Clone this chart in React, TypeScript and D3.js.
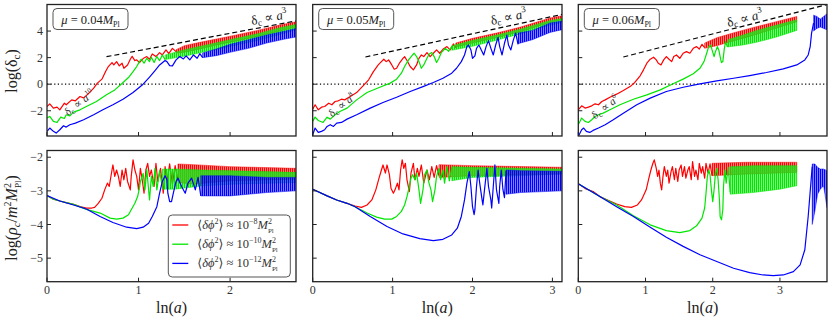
import React from 'react';
import * as d3 from 'd3';

type Pt = [number, number];
type Band = [number, number, number]; // [ln a, low, high] envelope of fast oscillation

// ---------- data ----------
const muLabels = ['0.04', '0.05', '0.06'];
const xMaxes = [2.72, 3.12, 3.7];
const xTicks = [[0, 1, 2], [0, 1, 2, 3], [0, 1, 2, 3]];
const topTicks = [-2, 0, 2, 4];
const bottomTicks = [-5, -4, -3, -2];
const legendExponents = ['−8', '−10', '−12'];
const growthPowers = ['10', '8', '6'];
// start of the delta_c ∝ a^3 guide line [ln a, log delta]
const dashStarts: Pt[] = [[0.65, 2.07], [0.66, 2.05], [0.67, 2.05]];
const a3LabelPos: Pt[] = [[2.24, 4.45], [2.24, 4.45], [2.23, 4.3]];
const lowLabelPos: Pt[] = [[0.23, -2.4], [0.24, -2.5], [0.25, -2.65]];

// top row, log(delta_c)
const topRed04: Pt[] = [[0, -1.68], [0.03, -1.48], [0.07, -1.8], [0.11, -1.73], [0.14, -1.93], [0.19, -1.43], [0.21, -1.55], [0.27, -1.18], [0.31, -1.25], [0.36, -0.93], [0.4, -1.03], [0.45, -0.73], [0.51, -0.3], [0.55, 0.08], [0.6, 0.38], [0.64, 0.95], [0.67, 1.33], [0.71, 1.63], [0.73, 1.45], [0.76, 1.7], [0.79, 1.38], [0.82, 1.58], [0.84, 1.2], [0.88, 1.45], [0.91, 1.88], [0.93, 2.1], [0.96, 1.78], [0.98, 1.83], [1.01, 1.63], [1.05, 1.93], [1.09, 2.08], [1.12, 1.88], [1.15, 2.28], [1.19, 2.08], [1.23, 2.38], [1.26, 2.2], [1.3, 2.58], [1.33, 2.3], [1.37, 2.7], [1.41, 2.45]];
const topRed04Band: Band[] = [[1.41, 2.35, 2.6], [1.5, 2.4, 2.9], [1.67, 2.65, 3.15], [1.85, 2.95, 3.4], [2.03, 3.2, 3.65], [2.3, 3.6, 4.05], [2.54, 4.0, 4.45], [2.72, 4.3, 4.7]];
const topGreen04: Pt[] = [[0, -2.55], [0.03, -2.43], [0.07, -2.8], [0.11, -2.88], [0.15, -2.48], [0.19, -2.58], [0.21, -2.3], [0.25, -2.38], [0.29, -2.1], [0.36, -1.93], [0.43, -1.68], [0.54, -1.3], [0.65, -0.8], [0.74, -0.43], [0.81, 0], [0.89, 0.5], [0.94, 0.95], [0.98, 1.33], [1.01, 1.7], [1.03, 1.88], [1.06, 1.58], [1.09, 1.95], [1.12, 1.7], [1.14, 2.03], [1.17, 1.63], [1.2, 2.08], [1.23, 1.78], [1.26, 2.2], [1.29, 1.85]];
const topGreen04Band: Band[] = [[1.29, 1.85, 2.2], [1.5, 2.1, 2.6], [1.8, 2.55, 3.05], [2.03, 2.9, 3.4], [2.3, 3.3, 3.8], [2.54, 3.75, 4.25], [2.72, 4.1, 4.5]];
const topBlue04: Pt[] = [[0, -3.55], [0.03, -3.3], [0.07, -3.55], [0.1, -3.68], [0.14, -3.43], [0.18, -3.13], [0.21, -3.23], [0.25, -3.05], [0.31, -2.93], [0.4, -2.68], [0.51, -2.3], [0.61, -1.93], [0.72, -1.55], [0.83, -1.13], [0.94, -0.63], [1.05, 0], [1.12, 0.53], [1.18, 1.03], [1.23, 1.45], [1.29, 1.78], [1.31, 1.7], [1.34, 1.4], [1.37, 1.38], [1.41, 1.83], [1.45, 2.08], [1.49, 1.9], [1.52, 2.13], [1.56, 1.83], [1.6, 2.2], [1.64, 1.95], [1.67, 2.3], [1.7, 2.0]];
const topBlue04Band: Band[] = [[1.7, 2.0, 2.35], [1.85, 2.15, 2.65], [2.0, 2.4, 3.0], [2.2, 2.7, 3.35], [2.4, 3.1, 3.7], [2.6, 3.4, 4.0], [2.72, 3.55, 4.2]];

const topRed05: Pt[] = [[0, -1.88], [0.03, -1.55], [0.07, -1.93], [0.11, -1.73], [0.15, -1.68], [0.2, -1.43], [0.24, -1.55], [0.28, -1.3], [0.32, -1.25], [0.36, -1.13], [0.4, -1.18], [0.47, -0.93], [0.55, -0.63], [0.63, -0.13], [0.7, 0.33], [0.76, 0.95], [0.82, 1.45], [0.86, 1.7], [0.89, 1.88], [0.92, 1.7], [0.95, 1.83], [0.99, 1.45], [1.02, 1.13], [1.05, 1.2], [1.09, 1.63], [1.13, 1.95], [1.15, 2.08], [1.18, 1.78], [1.22, 1.33], [1.26, 1.08], [1.3, 1.45], [1.33, 1.95], [1.36, 2.2], [1.39, 2.08], [1.43, 2.38], [1.47, 2.08], [1.51, 2.33], [1.55, 2.58], [1.59, 2.33], [1.63, 2.63], [1.68, 2.83], [1.72, 2.58], [1.76, 3.03], [1.79, 2.75]];
const topRed05Band: Band[] = [[1.79, 2.8, 3.1], [2.0, 3.1, 3.45], [2.3, 3.5, 3.85], [2.6, 3.95, 4.3], [2.97, 4.65, 4.98], [3.12, 4.85, 5.15]];
const topGreen05: Pt[] = [[0, -2.8], [0.03, -2.48], [0.07, -2.73], [0.13, -2.88], [0.18, -2.48], [0.22, -2.63], [0.28, -2.3], [0.34, -2.05], [0.43, -1.8], [0.55, -1.18], [0.68, -0.63], [0.84, -0.23], [0.97, 0.08], [1.05, 0.38], [1.11, 0.83], [1.15, 1.33], [1.2, 1.83], [1.24, 2.13], [1.27, 2.33], [1.3, 2.08], [1.33, 1.7], [1.36, 1.2], [1.39, 1.45], [1.43, 1.95], [1.46, 2.28], [1.49, 2.38], [1.52, 2.08], [1.55, 1.63], [1.58, 1.95], [1.61, 2.38], [1.66, 2.7], [1.7, 2.48], [1.74, 2.83]];
const topGreen05Band: Band[] = [[1.74, 2.55, 2.9], [2.0, 2.85, 3.3], [2.3, 3.3, 3.7], [2.6, 3.8, 4.15], [2.97, 4.45, 4.8], [3.12, 4.65, 4.95]];
const topBlue05: Pt[] = [[0, -3.8], [0.03, -3.3], [0.07, -3.63], [0.11, -3.55], [0.15, -3.43], [0.18, -3.18], [0.22, -3.05], [0.26, -3.18], [0.3, -2.93], [0.36, -2.88], [0.43, -2.63], [0.55, -2.3], [0.72, -1.8], [0.88, -1.38], [1.05, -0.98], [1.22, -0.55], [1.38, -0.18], [1.51, 0.13], [1.63, 0.45], [1.74, 0.83], [1.8, 1.2], [1.86, 1.7], [1.9, 2.2], [1.93, 2.83], [1.95, 2.95], [1.98, 2.58], [2.0, 1.95], [2.03, 2.13], [2.05, 2.7], [2.08, 2.95], [2.11, 2.58], [2.14, 2.2], [2.17, 2.83], [2.2, 3.28], [2.23, 2.7], [2.26, 2.2], [2.29, 2.95], [2.32, 3.53], [2.34, 2.83], [2.37, 2.2], [2.4, 3.08], [2.43, 3.7], [2.45, 2.95], [2.48, 2.58], [2.51, 3.3], [2.54, 3.85], [2.57, 3.0]];
const topBlue05Band: Band[] = [[2.57, 3.05, 3.85], [2.75, 3.35, 4.05], [2.97, 3.9, 4.6], [3.12, 4.1, 4.75]];

const topRed06: Pt[] = [[0, -1.93], [0.05, -1.63], [0.1, -1.8], [0.15, -1.73], [0.2, -1.63], [0.25, -1.48], [0.3, -1.55], [0.35, -1.3], [0.4, -1.18], [0.47, -0.98], [0.57, -0.75], [0.67, -0.48], [0.77, -0.18], [0.84, 0.13], [0.92, 0.63], [0.97, 1.08], [1.02, 1.58], [1.07, 1.88], [1.12, 2.03], [1.16, 1.83], [1.19, 1.58], [1.23, 1.45], [1.27, 1.83], [1.31, 2.08], [1.35, 1.88], [1.39, 1.7], [1.42, 2.08], [1.46, 2.2], [1.51, 1.95], [1.56, 2.33], [1.61, 2.45], [1.66, 2.33], [1.71, 2.7], [1.76, 2.83], [1.8, 2.65], [1.84, 3.0], [1.88, 2.75]];
const topRed06Band: Band[] = [[1.88, 2.7, 3.1], [2.06, 2.9, 3.5], [2.3, 3.25, 3.85], [2.55, 3.6, 4.2], [2.9, 4.15, 4.65], [3.25, 4.7, 5.1]];
const topGreen06: Pt[] = [[0, -3.05], [0.05, -2.55], [0.1, -2.8], [0.15, -2.88], [0.2, -2.68], [0.25, -2.43], [0.3, -2.3], [0.37, -2.18], [0.47, -1.93], [0.62, -1.55], [0.82, -1.13], [1.02, -0.8], [1.22, -0.43], [1.41, 0.03], [1.56, 0.38], [1.71, 0.78], [1.81, 1.2], [1.87, 1.7], [1.91, 2.33], [1.94, 2.83], [1.97, 2.95], [1.99, 2.58], [2.02, 2.08], [2.04, 2.45], [2.07, 2.83], [2.09, 2.58], [2.12, 1.83], [2.13, 1.63], [2.15, 1.7], [2.17, 2.58], [2.19, 3.2], [2.22, 2.8]];
const topGreen06Band: Band[] = [[2.22, 2.8, 3.35], [2.45, 2.95, 3.7], [2.65, 3.15, 4.05], [2.95, 3.55, 4.45], [3.25, 4.05, 4.85]];
const topBlue06: Pt[] = [[0, -3.93], [0.05, -3.43], [0.08, -3.3], [0.12, -3.55], [0.17, -3.63], [0.22, -3.48], [0.3, -3.3], [0.4, -3.05], [0.52, -2.68], [0.67, -2.18], [0.87, -1.55], [1.07, -1.05], [1.31, -0.55], [1.56, -0.23], [1.81, 0.03], [2.06, 0.25], [2.31, 0.45], [2.55, 0.65], [2.8, 0.88], [3.05, 1.15], [3.25, 1.45], [3.37, 1.83], [3.42, 2.2], [3.45, 2.83], [3.47, 3.83], [3.5, 4.6]];
const topBlue06Band: Band[] = [[3.5, 4.0, 5.2], [3.55, 4.2, 5.1], [3.6, 4.3, 4.9], [3.65, 4.2, 5.1], [3.7, 4.1, 5.3]];

// bottom row, log(rho_c / m^2 M_Pl^2)
const botRed04: Pt[] = [[0, -3.14], [0.07, -3.25], [0.14, -3.3], [0.21, -3.35], [0.29, -3.4], [0.36, -3.47], [0.43, -3.51], [0.49, -3.51], [0.52, -3.49], [0.56, -3.37], [0.6, -3.22], [0.63, -2.97], [0.66, -2.77], [0.68, -2.87], [0.71, -2.38], [0.72, -2.23], [0.74, -2.57], [0.76, -2.38], [0.78, -2.57], [0.8, -2.87], [0.82, -2.38], [0.84, -2.67], [0.86, -2.33], [0.88, -2.72], [0.91, -2.97], [0.92, -2.57], [0.94, -2.08], [0.96, -2.38], [0.98, -2.57], [1.0, -2.97], [1.02, -2.33], [1.04, -2.67], [1.06, -3.07], [1.08, -2.38], [1.1, -2.18], [1.12, -2.57], [1.14, -2.38], [1.17, -2.87], [1.19, -2.18], [1.21, -2.72], [1.24, -2.33], [1.27, -3.07], [1.29, -2.28], [1.31, -2.75], [1.34, -2.2], [1.37, -2.8], [1.4, -2.25], [1.43, -2.7]];
const botRed04Band: Band[] = [[1.43, -2.75, -2.2], [1.6, -2.8, -2.22], [2.0, -2.7, -2.28], [2.72, -2.65, -2.33]];
const botGreen04: Pt[] = [[0, -3.14], [0.07, -3.25], [0.14, -3.3], [0.21, -3.35], [0.29, -3.4], [0.43, -3.55], [0.58, -3.66], [0.69, -3.81], [0.76, -3.84], [0.83, -3.81], [0.89, -3.71], [0.92, -3.56], [0.96, -3.37], [0.99, -3.17], [1.01, -2.92], [1.02, -2.72], [1.04, -2.57], [1.05, -2.48], [1.07, -2.97], [1.09, -2.37], [1.12, -3.27], [1.14, -2.57], [1.16, -2.87], [1.18, -2.33], [1.2, -2.97], [1.23, -2.4], [1.26, -2.9]];
const botGreen04Band: Band[] = [[1.26, -2.95, -2.35], [1.4, -2.95, -2.35], [1.7, -2.85, -2.38], [2.0, -2.8, -2.4], [2.72, -2.75, -2.45]];
const botBlue04: Pt[] = [[0, -3.14], [0.14, -3.3], [0.29, -3.42], [0.43, -3.54], [0.58, -3.76], [0.72, -3.94], [0.87, -4.08], [0.98, -4.12], [1.05, -4.08], [1.11, -3.96], [1.15, -3.76], [1.2, -3.47], [1.23, -3.07], [1.26, -2.72], [1.29, -2.55], [1.31, -2.67], [1.32, -3.07], [1.34, -3.32], [1.36, -3.32], [1.38, -3.07], [1.41, -2.72], [1.43, -2.62], [1.47, -2.87], [1.51, -3.07], [1.54, -2.77], [1.58, -2.62], [1.62, -2.97], [1.65, -2.6], [1.68, -3.15]];
const botBlue04Band: Band[] = [[1.68, -3.15, -2.55], [2.0, -3.15, -2.55], [2.4, -3.05, -2.6], [2.72, -3.0, -2.6]];

const botRed05: Pt[] = [[0, -2.95], [0.09, -3.05], [0.18, -3.15], [0.3, -3.27], [0.43, -3.37], [0.53, -3.45], [0.61, -3.49], [0.68, -3.42], [0.74, -3.27], [0.79, -2.97], [0.83, -2.62], [0.86, -2.38], [0.88, -2.23], [0.91, -2.47], [0.93, -2.23], [0.96, -2.52], [0.98, -2.92], [1.01, -3.07], [1.03, -2.97], [1.06, -2.77], [1.08, -2.97], [1.1, -2.38], [1.12, -2.08], [1.14, -2.33], [1.16, -2.18], [1.18, -2.67], [1.21, -3.02], [1.23, -2.47], [1.26, -2.18], [1.28, -2.67], [1.31, -2.33], [1.33, -2.57], [1.36, -2.23], [1.39, -2.77], [1.43, -2.38], [1.46, -2.67], [1.49, -2.28], [1.52, -2.6], [1.55, -2.25], [1.58, -2.55]];
const botRed05Band: Band[] = [[1.58, -2.6, -2.22], [2.0, -2.55, -2.25], [3.12, -2.5, -2.3]];
const botGreen05: Pt[] = [[0, -2.95], [0.18, -3.15], [0.3, -3.27], [0.43, -3.37], [0.53, -3.47], [0.68, -3.66], [0.8, -3.78], [0.9, -3.84], [0.99, -3.84], [1.05, -3.76], [1.11, -3.61], [1.15, -3.42], [1.18, -3.17], [1.21, -2.87], [1.23, -2.62], [1.25, -2.52], [1.28, -2.67], [1.3, -2.47], [1.33, -2.97], [1.35, -3.37], [1.38, -2.97], [1.4, -2.52], [1.43, -2.38], [1.45, -2.72], [1.48, -2.97], [1.5, -3.32], [1.53, -2.97], [1.55, -2.57], [1.58, -2.33], [1.6, -2.67], [1.63, -2.38], [1.65, -2.77], [1.68, -2.28], [1.71, -2.7], [1.74, -2.3]];
const botGreen05Band: Band[] = [[1.74, -2.7, -2.28], [2.0, -2.6, -2.3], [3.12, -2.5, -2.35]];
const botBlue05: Pt[] = [[0, -2.95], [0.18, -3.15], [0.3, -3.27], [0.43, -3.37], [0.53, -3.47], [0.72, -3.76], [0.93, -4.06], [1.13, -4.28], [1.34, -4.42], [1.51, -4.48], [1.63, -4.44], [1.74, -4.31], [1.81, -4.11], [1.86, -3.76], [1.9, -3.27], [1.93, -2.77], [1.96, -2.43], [1.98, -2.87], [2.0, -3.47], [2.02, -3.71], [2.03, -3.56], [2.05, -2.87], [2.07, -2.38], [2.09, -2.77], [2.12, -3.27], [2.13, -3.42], [2.15, -2.97], [2.18, -2.33], [2.2, -2.87], [2.23, -3.27], [2.24, -3.51], [2.26, -2.87], [2.28, -2.23], [2.3, -2.97], [2.33, -3.37], [2.34, -2.87], [2.36, -2.38], [2.38, -2.95], [2.4, -3.2], [2.42, -2.4]];
const botBlue05Band: Band[] = [[2.42, -3.1, -2.38], [2.6, -3.05, -2.4], [3.12, -3.0, -2.42]];

const botRed06: Pt[] = [[0, -2.79], [0.12, -2.95], [0.22, -3.02], [0.32, -3.17], [0.45, -3.29], [0.57, -3.39], [0.69, -3.47], [0.79, -3.49], [0.88, -3.42], [0.94, -3.27], [1.01, -2.97], [1.05, -2.62], [1.08, -2.38], [1.11, -2.18], [1.13, -2.08], [1.16, -2.33], [1.18, -2.57], [1.2, -2.38], [1.22, -2.77], [1.24, -2.97], [1.26, -2.57], [1.28, -2.28], [1.31, -2.57], [1.33, -2.38], [1.35, -2.77], [1.38, -2.43], [1.4, -2.28], [1.43, -2.67], [1.45, -2.33], [1.48, -2.72], [1.5, -2.38], [1.53, -2.23], [1.55, -2.57], [1.58, -2.28], [1.6, -2.62], [1.63, -2.38], [1.65, -2.28], [1.68, -2.67], [1.7, -2.13], [1.73, -2.57], [1.75, -2.38], [1.78, -2.67], [1.8, -2.18], [1.83, -2.47], [1.85, -2.28], [1.88, -2.62], [1.9, -2.18], [1.93, -2.47], [1.96, -2.2], [1.99, -2.55]];
const botRed06Band: Band[] = [[1.99, -2.55, -2.18], [2.5, -2.5, -2.15], [3.25, -2.45, -2.15]];
const botGreen06: Pt[] = [[0, -2.79], [0.32, -3.17], [0.57, -3.42], [0.82, -3.74], [1.07, -4.01], [1.31, -4.18], [1.51, -4.24], [1.66, -4.18], [1.76, -4.04], [1.84, -3.81], [1.88, -3.51], [1.9, -3.07], [1.92, -2.57], [1.94, -2.38], [1.96, -2.52], [1.98, -2.97], [2.0, -3.32], [2.02, -2.97], [2.04, -2.48], [2.06, -2.33], [2.08, -2.67], [2.1, -3.27], [2.11, -3.76], [2.13, -3.86], [2.15, -3.56], [2.16, -2.87], [2.18, -2.38], [2.2, -2.77], [2.23, -2.3], [2.26, -3.05]];
const botGreen06Band: Band[] = [[2.26, -3.1, -2.28], [2.6, -3.05, -2.25], [3.0, -2.95, -2.25], [3.25, -2.85, -2.25]];
const botBlue06: Pt[] = [[0, -2.79], [0.32, -3.17], [0.57, -3.47], [0.82, -3.76], [1.07, -4.08], [1.31, -4.38], [1.56, -4.65], [1.81, -4.9], [2.06, -5.1], [2.31, -5.3], [2.55, -5.43], [2.75, -5.5], [2.9, -5.52], [3.05, -5.5], [3.2, -5.4], [3.3, -5.2], [3.37, -4.75], [3.42, -3.76], [3.46, -2.77], [3.48, -2.28]];
const botBlue06Band: Band[] = [[3.48, -4.0, -2.2], [3.52, -3.6, -2.2], [3.56, -3.1, -2.3], [3.6, -2.95, -2.35], [3.65, -2.85, -2.35], [3.7, -3.5, -2.4]];

const topLines = [[topRed04, topGreen04, topBlue04], [topRed05, topGreen05, topBlue05], [topRed06, topGreen06, topBlue06]];
const topBands = [[topRed04Band, topGreen04Band, topBlue04Band], [topRed05Band, topGreen05Band, topBlue05Band], [topRed06Band, topGreen06Band, topBlue06Band]];
const botLines = [[botRed04, botGreen04, botBlue04], [botRed05, botGreen05, botBlue05], [botRed06, botGreen06, botBlue06]];
const botBands = [[botRed04Band, botGreen04Band, botBlue04Band], [botRed05Band, botGreen05Band, botBlue05Band], [botRed06Band, botGreen06Band, botBlue06Band]];

const colors = ['#ff0000', '#00e600', '#0000ff'];
const FONT = '"Liberation Serif", "DejaVu Serif", serif';

// layout
const W = 831;
const H = 321;
const cols = [{ l: 47, r: 296 }, { l: 312.7, r: 562 }, { l: 578.3, r: 827 }];
const rows = [
  { t: 4.5, b: 136, dom: [-3.9, 6], ticks: topTicks },
  { t: 150.5, b: 281.7, dom: [-5.7, -1.8], ticks: bottomTicks },
];

const fmt = (v: number) => (v < 0 ? `−${Math.abs(v)}` : `${v}`);

const Panel = ({ ci, ri }: { ci: number; ri: number }) => {
  const c = cols[ci];
  const r = rows[ri];
  const x = d3.scaleLinear().domain([0, xMaxes[ci]]).range([c.l, c.r]);
  const y = d3.scaleLinear().domain(r.dom).range([r.b, r.t]);
  const line = d3.line<Pt>().x(d => x(d[0])).y(d => y(d[1]));
  const area = d3.area<Band>().x(d => x(d[0])).y0(d => y(d[1])).y1(d => y(d[2]));
  const lines = ri === 0 ? topLines[ci] : botLines[ci];
  const bands = ri === 0 ? topBands[ci] : botBands[ci];
  const clipId = `clip-${ri}-${ci}`;

  // delta_c ∝ a^3 guide: log10(delta) grows by 3/ln(10) per unit ln(a)
  const ds = dashStarts[ci];
  const slope = 3 / Math.LN10;
  const dashPts: Pt[] = [ds, [xMaxes[ci], ds[1] + slope * (xMaxes[ci] - ds[0])]];
  const ang = (Math.atan2(y(dashPts[1][1]) - y(ds[1]), x(dashPts[1][0]) - x(ds[0])) * 180) / Math.PI;

  return (
    <g>
      <defs>
        <clipPath id={clipId}>
          <rect x={c.l} y={r.t} width={c.r - c.l} height={r.b - r.t} />
        </clipPath>
      </defs>
      <g clipPath={`url(#${clipId})`}>
        {ri === 0 && (
          <line x1={c.l} x2={c.r} y1={y(0)} y2={y(0)} stroke="#000" strokeWidth={1.2} strokeDasharray="1.2,2.4" />
        )}
        {lines.map((pts, i) => (
          <g key={i}>
            <path d={line(pts) || ''} fill="none" stroke={colors[i]} strokeWidth={1.2} strokeLinejoin="round" />
            <path d={area(bands[i]) || ''} fill={`url(#osc-${i})`} stroke={colors[i]} strokeWidth={0.6} strokeOpacity={0.8} />
          </g>
        ))}
        {ri === 0 && (
          <path d={line(dashPts) || ''} fill="none" stroke="#000" strokeWidth={1.2} strokeDasharray="5,3" />
        )}
      </g>
      <rect x={c.l} y={r.t} width={c.r - c.l} height={r.b - r.t} fill="none" stroke="#222" strokeWidth={1.3} />
      {/* inward ticks */}
      {r.ticks.map(t => (
        <line key={`y${t}`} x1={c.l} x2={c.l + 4} y1={y(t)} y2={y(t)} stroke="#222" strokeWidth={1} />
      ))}
      {xTicks[ci].map(t => (
        <line key={`x${t}`} x1={x(t)} x2={x(t)} y1={r.b} y2={r.b - 4} stroke="#222" strokeWidth={1} />
      ))}
      {ci === 0 &&
        r.ticks.map(t => (
          <text key={`yl${t}`} x={c.l - 4} y={y(t) + 4} textAnchor="end" fontSize={12} fill="#333">
            {fmt(t)}
          </text>
        ))}
      {ri === 1 &&
        xTicks[ci].map(t => (
          <text key={`xl${t}`} x={x(t)} y={r.b + 12} textAnchor="middle" fontSize={12} fill="#333">
            {t}
          </text>
        ))}
      {ri === 1 && (
        <text x={(c.l + c.r) / 2} y={313} textAnchor="middle" fontSize={16} fill="#222">
          ln(<tspan fontStyle="italic">a</tspan>)
        </text>
      )}
      {ri === 0 && (
        <g>
          <rect x={c.l + 6} y={r.t + 4} width={75} height={21} rx={4} fill="#fff" stroke="#555" strokeWidth={1} />
          <text x={c.l + 43.5} y={r.t + 19} textAnchor="middle" fontSize={12.5} fill="#222">
            <tspan fontStyle="italic">μ</tspan> = {muLabels[ci]}
            <tspan fontStyle="italic">M</tspan>
            <tspan fontSize={8} dy={3}>Pl</tspan>
          </text>
          <text
            transform={`translate(${x(a3LabelPos[ci][0])},${y(a3LabelPos[ci][1])}) rotate(${ang})`}
            fontSize={13}
            fill="#222"
          >
            δ<tspan fontSize={9} dy={2}>c</tspan>
            <tspan dy={-2}> ∝ </tspan>
            <tspan fontStyle="italic">a</tspan>
            <tspan fontSize={9} dy={-6}>3</tspan>
          </text>
          <text
            transform={`translate(${x(lowLabelPos[ci][0])},${y(lowLabelPos[ci][1])}) rotate(-38)`}
            fontSize={11}
            fill="#333"
          >
            δ<tspan fontSize={8} dy={2}>c</tspan>
            <tspan dy={-2}> ∝ </tspan>
            <tspan fontStyle="italic">a</tspan>
            <tspan fontSize={7} dy={-5}>{growthPowers[ci]}</tspan>
          </text>
        </g>
      )}
    </g>
  );
};

const Legend = () => {
  const lx = 168.3;
  const ly = 215;
  return (
    <g>
      <rect x={lx} y={ly} width={122} height={62} rx={4} fill="#fff" fillOpacity={0.9} stroke="#555" strokeWidth={1} />
      {legendExponents.map((e, i) => {
        const yy = ly + 10 + i * 19.2;
        return (
          <g key={e}>
            <line x1={lx + 4} x2={lx + 20} y1={yy} y2={yy} stroke={colors[i]} strokeWidth={1.3} />
            <text x={lx + 29} y={yy + 4} fontSize={12.5} fill="#333">
              ⟨<tspan fontStyle="italic">δϕ</tspan>
              <tspan fontSize={8} dy={-5}>2</tspan>
              <tspan dy={5}>⟩ ≈ 10</tspan>
              <tspan fontSize={8} dy={-5}>{e}</tspan>
              <tspan dy={5} fontStyle="italic">M</tspan>
              <tspan fontSize={8} dy={-5}>2</tspan>
              <tspan fontSize={7} dx={-4} dy={8.5}>Pl</tspan>
            </text>
          </g>
        );
      })}
    </g>
  );
};

export default function App() {
  return (
    <div style={{ position: 'absolute', left: 0, top: 0 }}>
      <svg width={W} height={H} viewBox={`0 0 ${W} ${H}`} fontFamily={FONT} style={{ display: 'block', background: '#fff' }}>
        <defs>
          {colors.map((col, i) => (
            <pattern key={col} id={`osc-${i}`} width={2} height={20} patternUnits="userSpaceOnUse">
              <rect x={0} y={0} width={1.5} height={20} fill={col} />
            </pattern>
          ))}
        </defs>
        {[0, 1].map(ri => [0, 1, 2].map(ci => <Panel key={`${ri}-${ci}`} ci={ci} ri={ri} />))}
        <Legend />
        <text transform="translate(17,71) rotate(-90)" textAnchor="middle" fontSize={16} fill="#222">
          log(δ<tspan fontSize={11} dy={3}>c</tspan>
          <tspan dy={-3}>)</tspan>
        </text>
        <text transform="translate(17,218) rotate(-90)" textAnchor="middle" fontSize={16} fill="#222">
          log(<tspan fontStyle="italic">ρ</tspan>
          <tspan fontSize={11} dy={3} fontStyle="italic">c</tspan>
          <tspan dy={-3}>/</tspan>
          <tspan fontStyle="italic">m</tspan>
          <tspan fontSize={10} dy={-6}>2</tspan>
          <tspan dy={6} fontStyle="italic">M</tspan>
          <tspan fontSize={10} dy={-6}>2</tspan>
          <tspan fontSize={9} dx={-5} dy={10}>Pl</tspan>
          <tspan dy={-4}>)</tspan>
        </text>
      </svg>
    </div>
  );
}
